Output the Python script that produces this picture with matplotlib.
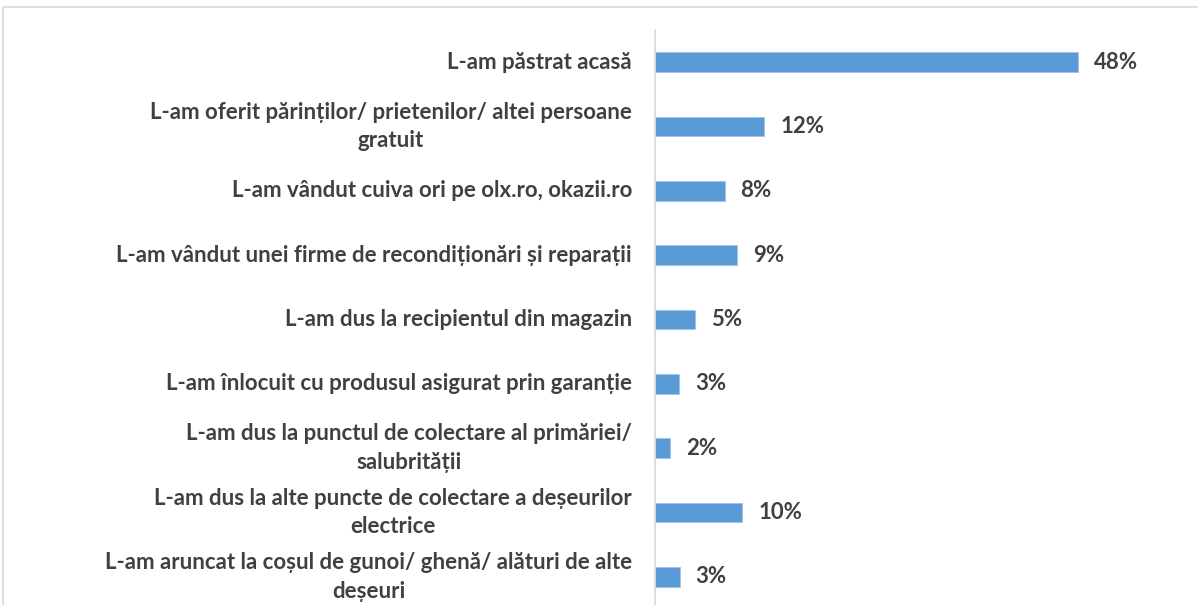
import matplotlib.pyplot as plt
from matplotlib.patches import Rectangle

categories = [
    "L-am păstrat acasă",
    "L-am oferit părinților/ prietenilor/ altei persoane\ngratuit",
    "L-am vândut cuiva ori pe olx.ro, okazii.ro",
    "L-am vândut unei firme de recondiționări și reparații",
    "L-am dus la recipientul din magazin",
    "L-am înlocuit cu produsul asigurat prin garanție",
    "L-am dus la punctul de colectare al primăriei/\nsalubrității",
    "L-am dus la alte puncte de colectare a deșeurilor\nelectrice",
    "L-am aruncat la coșul de gunoi/ ghenă/ alături de alte\ndeșeuri",
]
values = [48.0, 12.4, 7.9, 9.3, 4.5, 2.7, 1.7, 9.9, 2.8]
value_labels = ["48%", "12%", "8%", "9%", "5%", "3%", "2%", "10%", "3%"]

bar_color = "#5b9bd5"
text_color = "#404040"
plt.rcParams["font.family"] = ["Lato", "DejaVu Sans"]

W, H = 1198, 605
fig = plt.figure(figsize=(W / 100, H / 100), dpi=100)

# light frame around chart area
fig.patches.append(Rectangle((3 / W, -0.1), 1.2, 1 - 7 / H + 0.1, transform=fig.transFigure,
                             fill=False, edgecolor="#d9d9d9", linewidth=1.2))

left, right = 655, 1190
top, bottom = 30, 609
ax = fig.add_axes([left / W, 1 - bottom / H, (right - left) / W, (bottom - top) / H])

px_per_unit = (1078 - 655) / 48.0
ax.set_xlim(0, (right - left) / px_per_unit)
n = len(categories)
ax.set_ylim(n - 0.5, -0.5)

ypos = list(range(n))
ax.barh(ypos, values, height=0.31, color=bar_color, edgecolor="#9dc3e6", linewidth=0.6)

for y, v, lab in zip(ypos, values, value_labels):
    ax.text(v + 16 / px_per_unit, y, lab, va="center", ha="left", fontsize=16,
            fontweight="bold", color=text_color)

for y, cat in zip(ypos, categories):
    ax.text(-23 / px_per_unit, y, cat, va="center", ha="right", multialignment="center",
            fontsize=16, fontweight="bold", color=text_color, linespacing=1.45)

for s in ["top", "right", "bottom"]:
    ax.spines[s].set_visible(False)
ax.spines["left"].set_color("#d9d9d9")
ax.spines["left"].set_linewidth(1.2)
ax.set_xticks([])
ax.set_yticks([])

fig.savefig("out.png", dpi=100)
